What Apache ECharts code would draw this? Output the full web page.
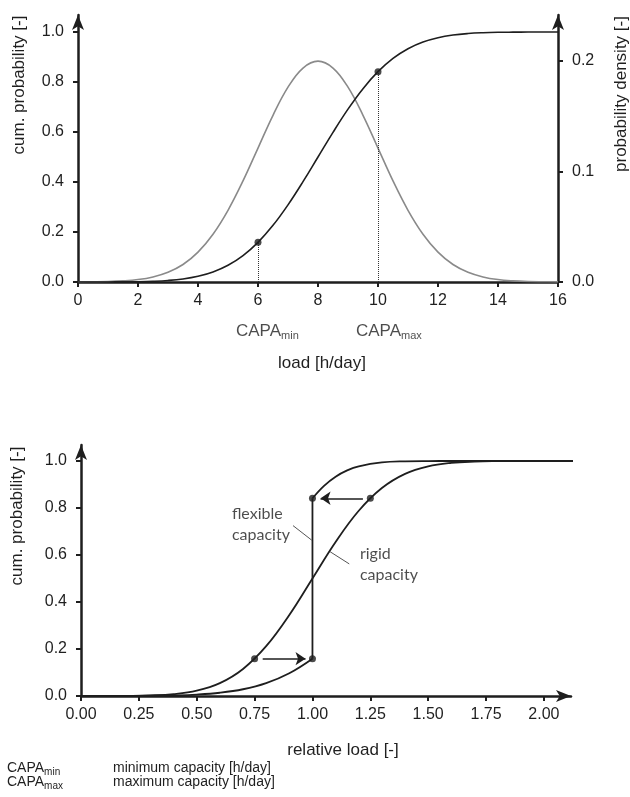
<!DOCTYPE html>
<html>
<head>
<meta charset="utf-8">
<script src="https://cdn.jsdelivr.net/npm/echarts@6/dist/echarts.min.js"></script>
<style>
  html, body { margin: 0; padding: 0; background: #fff; }
  #chart { width: 630px; height: 797px; }
</style>
</head>
<body>
<div id="chart"></div>
<script>
// ---- top panel: load in h/day ----
const loadX = [0, 0.5, 1, 1.5, 2, 2.5, 3, 3.5, 4, 4.5, 5, 5.5, 6, 6.5, 7, 7.5, 8,
  8.5, 9, 9.5, 10, 10.5, 11, 11.5, 12, 12.5, 13, 13.5, 14, 14.5, 15, 15.5, 16]
const cumProb = [0, 0.0001, 0.0002, 0.0006, 0.0013, 0.003, 0.0062, 0.0122, 0.0228, 0.0401,
  0.0668, 0.1056, 0.1587, 0.2266, 0.3085, 0.4013, 0.5, 0.5987, 0.6915, 0.7734, 0.8413,
  0.8944, 0.9332, 0.9599, 0.9772, 0.9878, 0.9938, 0.997, 0.9987, 0.9994, 0.9998, 0.9999, 1]
const density = [0.0001, 0.0002, 0.0004, 0.001, 0.0022, 0.0046, 0.0088, 0.0158, 0.027,
  0.0432, 0.0648, 0.0913, 0.121, 0.1506, 0.176, 0.1933, 0.1995, 0.1933, 0.176, 0.1506,
  0.121, 0.0913, 0.0648, 0.0432, 0.027, 0.0158, 0.0088, 0.0046, 0.0022, 0.001, 0.0004, 0.0002, 0.0001]
const capaLoad = [6, 10]
const capaProb = [0.1587, 0.8413]
const capaSub = ['min', 'max']
const probTicks = [0, 0.2, 0.4, 0.6, 0.8, 1.0]
const densTicks = [0, 0.1, 0.2]

// ---- bottom panel: relative load ----
const relX = [0, 0.1, 0.2, 0.3, 0.4, 0.5, 0.6, 0.7, 0.8, 0.9, 1.0, 1.1, 1.2, 1.3, 1.4,
  1.5, 1.6, 1.7, 1.8, 1.9, 2.0, 2.15]
const rigidProb = [0, 0.0002, 0.0007, 0.0026, 0.0082, 0.0228, 0.0548, 0.1151, 0.2119, 0.3446,
  0.5, 0.6554, 0.7881, 0.8849, 0.9452, 0.9772, 0.9918, 0.9974, 0.9993, 0.9998, 1, 1]
const flexLowX = [0, 0.1, 0.2, 0.3, 0.4, 0.5, 0.6, 0.7, 0.8, 0.9, 1.0]
const flexLowProb = [0, 0.0001, 0.0003, 0.001, 0.0026, 0.0062, 0.0139, 0.0287, 0.0548, 0.0968, 0.1587]
const flexHighX = [1.0, 1.05, 1.1, 1.15, 1.2, 1.3, 1.4, 1.5, 1.6, 1.8, 2.0, 2.15]
const flexHighProb = [0.8413, 0.8944, 0.9332, 0.9599, 0.9772, 0.9938, 0.9987, 0.9998, 1, 1, 1, 1]
const shiftX = [0.75, 1.0, 1.0, 1.25]
const shiftProb = [0.1587, 0.1587, 0.8413, 0.8413]
const arrowFrom = [[0.785, 0.1587], [1.218, 0.8413]]
const arrowTo = [[0.97, 0.1587], [1.035, 0.8413]]
const noteText = ['flexible\ncapacity', 'rigid\ncapacity']
const notePos = [[0.652, 0.73], [1.205, 0.56]]
const leaderFrom = [[0.916, 0.725], [1.076, 0.614]]
const leaderTo = [[0.997, 0.663], [1.159, 0.562]]
const relTicks = [0, 0.25, 0.5, 0.75, 1.0, 1.25, 1.5, 1.75, 2.0]

const pairs = (xs, ys) => xs.map((x, i) => [x, ys[i]])

const ink = '#1e1e1e'
const textInk = '#1f1f1f'
const font = 'Liberation Sans'

const axisBase = {
  axisLine: { lineStyle: { color: ink, width: 2.5 } },
  axisTick: { length: 5, lineStyle: { color: ink, width: 2 } },
  axisLabel: { color: textInk, fontSize: 16, fontFamily: font, margin: 14 },
  splitLine: { show: false }
}
const arrowLine = {
  lineStyle: { color: ink, width: 2.5 },
  symbol: ['none', 'arrow'],
  symbolSize: [9, 15]
}

const chart = echarts.init(document.getElementById('chart'))

chart.setOption({
  animation: false,
  textStyle: { fontFamily: font },
  grid: [
    { left: 78, top: 15, width: 480, height: 267 },
    { left: 81, top: 445, width: 490, height: 251 }
  ],
  xAxis: [
    {
      ...axisBase, type: 'value', gridIndex: 0, min: 0, max: 16, interval: 2,
      axisLabel: { ...axisBase.axisLabel, margin: 11 }
    },
    {
      ...axisBase, type: 'value', gridIndex: 1, min: 0, max: 2.117,
      axisLine: arrowLine,
      axisTick: { ...axisBase.axisTick, customValues: relTicks },
      axisLabel: { ...axisBase.axisLabel, margin: 11, customValues: relTicks, formatter: v => v.toFixed(2) }
    }
  ],
  yAxis: [
    {
      ...axisBase, type: 'value', gridIndex: 0, min: 0, max: 1.068,
      axisLine: arrowLine,
      axisTick: { ...axisBase.axisTick, customValues: probTicks },
      axisLabel: { ...axisBase.axisLabel, customValues: probTicks, formatter: v => v.toFixed(1) }
    },
    {
      ...axisBase, type: 'value', gridIndex: 0, position: 'right', min: 0, max: 0.2412,
      axisLine: arrowLine,
      axisTick: { ...axisBase.axisTick, customValues: densTicks },
      axisLabel: { ...axisBase.axisLabel, customValues: densTicks, formatter: v => v.toFixed(1) }
    },
    {
      ...axisBase, type: 'value', gridIndex: 1, min: 0, max: 1.068,
      axisLine: arrowLine,
      axisTick: { ...axisBase.axisTick, customValues: probTicks },
      axisLabel: { ...axisBase.axisLabel, customValues: probTicks, formatter: v => v.toFixed(1) }
    }
  ],
  series: [
    {
      name: 'density', type: 'line', xAxisIndex: 0, yAxisIndex: 1,
      data: pairs(loadX, density), smooth: 0.4, showSymbol: false,
      lineStyle: { color: '#8a8a8a', width: 1.6 }
    },
    {
      name: 'cum', type: 'line', xAxisIndex: 0, yAxisIndex: 0,
      data: pairs(loadX, cumProb), smooth: 0.4, showSymbol: false,
      lineStyle: { color: ink, width: 1.6 },
      markLine: {
        silent: true, symbol: 'none', label: { show: false },
        lineStyle: { color: '#333', width: 1, type: 'dotted' },
        data: capaLoad.map((x, i) => [{ coord: [x, 0] }, { coord: [x, capaProb[i]] }])
      }
    },
    {
      name: 'capa', type: 'scatter', xAxisIndex: 0, yAxisIndex: 0,
      data: pairs(capaLoad, capaProb), symbolSize: 7, itemStyle: { color: ink }, z: 5
    },
    {
      name: 'capaLabel', type: 'scatter', xAxisIndex: 0, yAxisIndex: 0,
      data: capaLoad.map(x => [x, 0]), symbolSize: 0,
      label: {
        show: true, position: 'inside', align: 'left', offset: [-22, 49], color: textInk,
        formatter: p => '{b|CAPA}{s|' + capaSub[p.dataIndex] + '}',
        rich: {
          b: { fontSize: 17, fontFamily: font, color: textInk },
          s: { fontSize: 11, fontFamily: font, color: textInk, padding: [10, 0, 0, 0] }
        }
      }
    },
    {
      name: 'rigid', type: 'line', xAxisIndex: 1, yAxisIndex: 2,
      data: pairs(relX, rigidProb), smooth: 0.4, showSymbol: false,
      clip: false, lineStyle: { color: ink, width: 1.8 }
    },
    {
      name: 'flexLow', type: 'line', xAxisIndex: 1, yAxisIndex: 2,
      data: pairs(flexLowX, flexLowProb), smooth: 0.4, showSymbol: false,
      lineStyle: { color: ink, width: 1.8 }
    },
    {
      name: 'flexStep', type: 'line', xAxisIndex: 1, yAxisIndex: 2,
      data: [[1.0, flexLowProb[flexLowProb.length - 1]], [1.0, flexHighProb[0]]], showSymbol: false,
      lineStyle: { color: ink, width: 1.8 }
    },
    {
      name: 'flexHigh', type: 'line', xAxisIndex: 1, yAxisIndex: 2,
      data: pairs(flexHighX, flexHighProb), smooth: 0.4, showSymbol: false,
      clip: false, lineStyle: { color: ink, width: 1.8 }
    },
    {
      name: 'shift', type: 'scatter', xAxisIndex: 1, yAxisIndex: 2,
      data: pairs(shiftX, shiftProb), symbolSize: 7, itemStyle: { color: ink }, z: 5,
      markLine: {
        silent: true, symbol: ['none', 'arrow'], symbolSize: 10,
        label: { show: false },
        lineStyle: { color: ink, width: 1.6, type: 'solid' },
        data: arrowFrom.map((p, i) => [{ coord: p }, { coord: arrowTo[i] }])
      }
    },
    {
      name: 'notes', type: 'scatter', xAxisIndex: 1, yAxisIndex: 2,
      data: notePos, symbolSize: 0,
      label: {
        show: true, position: 'inside', align: 'left', verticalAlign: 'middle',
        formatter: p => noteText[p.dataIndex],
        fontFamily: 'Lato', fontSize: 16, lineHeight: 21, color: textInk
      },
      markLine: {
        silent: true, symbol: 'none', label: { show: false },
        lineStyle: { color: '#555', width: 1, type: 'solid' },
        data: leaderFrom.map((p, i) => [{ coord: p }, { coord: leaderTo[i] }])
      }
    }
  ],
  graphic: [
    { type: 'text', x: 19, y: 85, rotation: Math.PI / 2,
      style: { text: 'cum. probability [-]', font: '17px "Liberation Sans"', fill: textInk, align: 'center', verticalAlign: 'middle' } },
    { type: 'text', x: 621, y: 94, rotation: Math.PI / 2,
      style: { text: 'probability density [-]', font: '17px "Liberation Sans"', fill: textInk, align: 'center', verticalAlign: 'middle' } },
    { type: 'text', x: 322, y: 363,
      style: { text: 'load [h/day]', font: '17px "Liberation Sans"', fill: textInk, align: 'center', verticalAlign: 'middle' } },
    { type: 'text', x: 17, y: 516, rotation: Math.PI / 2,
      style: { text: 'cum. probability [-]', font: '17px "Liberation Sans"', fill: textInk, align: 'center', verticalAlign: 'middle' } },
    { type: 'text', x: 343, y: 750,
      style: { text: 'relative load [-]', font: '17px "Liberation Sans"', fill: textInk, align: 'center', verticalAlign: 'middle' } },
    { type: 'text', x: 7, y: 768,
      style: { text: '{b|CAPA}{s|min}', align: 'left', verticalAlign: 'middle',
        rich: { b: { fontSize: 14, fontFamily: font, fill: textInk }, s: { fontSize: 10, fontFamily: font, fill: textInk, padding: [8, 0, 0, 0] } } } },
    { type: 'text', x: 113, y: 768,
      style: { text: 'minimum capacity [h/day]', font: '14px "Liberation Sans"', fill: textInk, align: 'left', verticalAlign: 'middle' } },
    { type: 'text', x: 7, y: 782,
      style: { text: '{b|CAPA}{s|max}', align: 'left', verticalAlign: 'middle',
        rich: { b: { fontSize: 14, fontFamily: font, fill: textInk }, s: { fontSize: 10, fontFamily: font, fill: textInk, padding: [8, 0, 0, 0] } } } },
    { type: 'text', x: 113, y: 782,
      style: { text: 'maximum capacity [h/day]', font: '14px "Liberation Sans"', fill: textInk, align: 'left', verticalAlign: 'middle' } }
  ]
})

window.addEventListener('resize', () => chart.resize())
</script>
</body>
</html>
